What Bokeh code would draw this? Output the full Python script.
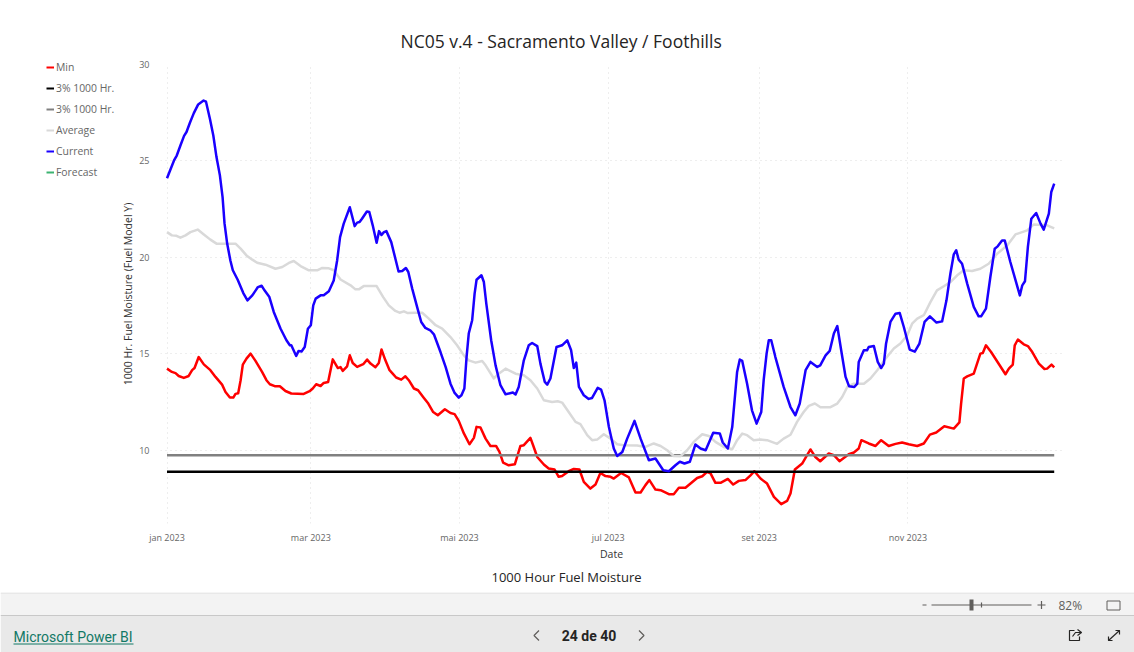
import pandas as pd
from bokeh.plotting import figure
from bokeh.layouts import column, row
from bokeh.models import (Range1d, FixedTicker, Legend, LegendItem, Title)
from bokeh.core.properties import value
from bokeh.embed import file_html
from bokeh.resources import INLINE

chart_title = "NC05 v.4 - Sacramento Valley / Foothills"
caption = "1000 Hour Fuel Moisture"
x_title = "Date"
y_title = "1000 Hr. Fuel Moisture (Fuel Model Y)"
tick_months = ["2023-01-01", "2023-03-01", "2023-05-01", "2023-07-01", "2023-09-01", "2023-11-01"]
tick_labels = ["jan 2023", "mar 2023", "mai 2023", "jul 2023", "set 2023", "nov 2023"]
y_ticks = [10, 15, 20, 25, 30]

current_days = [0,1.7,3,4,5.5,7,8,9.4,11,12.8,15,16,17.6,19,20.3,21.7,22.8,23.6,24.7,26,27,29,31.3,33,35,37.3,38.8,40,42,43.8,46.6,49,50.4,51,53,54,55.2,56.5,57.8,59,60,61,63,64.3,66.4,68.4,69.8,71,72.5,75,77,78,79,80,82,83,84.4,86,87,88,89,90,92,93.7,95,96.5,98,99,100.6,102.6,104.3,106,108,109.5,112.2,114.3,116.3,118,119.7,120.8,122,122.9,123.8,125.2,126.2,127,129,130,131,133,134.8,136.8,138.9,141.9,143,144.3,146.4,148.4,149.8,151.9,153.2,155,156,157.3,159.8,162.1,164.2,165.8,166.9,167.9,169,171,173,174.4,176.7,178.1,179.5,181.3,183.3,184.7,186.8,188.8,191.8,194.3,197.7,200.4,203.6,205.9,208.6,210.4,212.3,214.5,216.8,218.9,221,224.1,226.8,228,230.1,231.9,233.9,235,236,238,240,241.9,243.8,244.8,246,246.9,247.9,249.6,253,255.8,257.8,259.6,262,264,266.8,268,270.2,271.9,273.6,275,276.6,278.4,279.8,282,283.2,283.8,285.9,287.2,287.9,290,291.6,293,294.1,295,296.8,298.9,300.6,302.3,304.7,306.8,308.7,310.8,313,315.7,318,319.8,321.4,322.8,323.8,324.8,326.2,328.3,331,333,334,336,337.8,339.6,340.8,342.6,343.7,346,349.9,350.9,352,353.2,354.6,356.6,358.4,359.7,361.8,362.8,364]
current_vals = [24.1,24.65,25.06,25.28,25.8,26.3,26.5,26.98,27.48,27.93,28.13,28.07,27.19,26.32,25.2,24.25,23.12,21.76,20.7,19.84,19.33,18.84,18.15,17.77,18.03,18.46,18.53,18.29,17.94,17.17,16.3,15.7,15.44,15.44,14.89,15.15,15.12,15.35,16.3,16.48,17.51,17.86,18.03,18.03,18.24,18.8,19.84,21.05,21.75,22.6,21.62,21.8,21.83,22,22.38,22.35,21.66,20.76,21.36,21.16,21.31,21.36,20.79,19.93,19.27,19.29,19.45,19.24,18.38,17.43,16.65,16.34,16.22,16.01,15.09,14.32,13.45,12.97,12.73,12.85,13.2,14.83,16.05,16.74,18.12,18.84,19.07,18.72,17.6,15.7,14.4,13.37,12.9,12.99,12.89,13.28,14.66,15.44,15.56,15.4,14.49,13.54,13.4,13.72,15.35,15.44,15.7,15.18,14.26,14.54,13.28,12.85,12.66,12.71,13.23,13.14,12.59,11.2,10.09,9.7,9.91,10.6,11.52,10.6,9.48,9.57,8.96,8.91,9.22,9.4,9.31,9.4,10.3,10.09,10,10.9,10.87,10.4,10.09,11.2,14.06,14.7,14.63,13.45,12.07,11.38,11.98,13.63,15.01,15.7,15.7,14.83,13.28,12.24,11.81,12.42,14.15,14.58,14.32,14.4,14.92,15.15,16.05,16.44,15.18,13.8,13.32,13.28,13.45,14.58,15.18,15.18,15.35,15.4,14.58,14.26,14.49,15.52,16.65,17.08,17.12,16.39,15.22,15.11,15.53,16.65,16.94,16.62,16.68,17.77,19.15,20.16,20.37,19.88,19.67,18.64,17.43,16.94,16.94,17.34,18.98,20.45,20.57,20.88,20.88,19.76,18.03,18.55,18.76,20.54,22,22.3,21.75,21.44,22.27,23.39,23.82]

average_days = [0,2,3.9,5.5,7.6,9.6,12.6,15.1,17.8,20.3,24.7,28.1,30.2,32.6,35,37,40.4,44.5,47.3,50,52,54.8,58.2,61.6,63.7,66.4,68.4,71.2,75.3,77.3,78.7,80.7,86,88.7,91,93.7,95.4,97.2,98.8,102,104.7,107.4,110.2,112.9,116.3,119,121.8,123.8,126.6,129.3,130.7,134.1,136.1,138.9,143,146.4,149.1,151.9,154.6,158,160.3,162.1,164.8,167.6,169.6,172.4,174.4,176.5,179.2,182,184.7,187.4,192.9,196.3,199.7,202.5,205.2,207.9,210.7,213.4,216.1,219.6,222.3,225,228.4,231.9,233.9,236,238,240.7,243.5,246.2,250.3,253,255.8,258.5,261.2,263.3,265.8,268.1,272.2,275,277,279.1,281.8,285.9,288.6,291.4,294.8,298.2,300.9,303.7,305.7,307.8,310.5,313.2,315.9,318.7,321.4,324.2,326.9,330.3,333.7,337.1,340.6,344.7,348.1,352.9,355.6,361.1,364]
average_vals = [21.31,21.14,21.12,21.02,21.14,21.31,21.44,21.19,20.92,20.71,20.71,20.71,20.45,20.1,19.88,19.72,19.62,19.41,19.5,19.71,19.81,19.55,19.33,19.33,19.45,19.43,19.33,18.85,18.55,18.34,18.34,18.51,18.51,17.94,17.51,17.22,17.13,17.2,17.11,17.13,17.13,16.82,16.48,16.31,15.87,15.44,14.92,14.66,14.54,14.63,14.4,13.72,13.97,14.23,13.97,13.89,13.63,13.2,12.59,12.5,12.54,12.47,11.98,11.47,11.35,10.78,10.52,10.55,10.83,10.6,10.31,10.26,10.24,10.17,10.35,10.22,10,9.7,9.69,10,10.43,10.83,10.74,10.43,10.17,10.05,10.52,10.86,10.78,10.52,10.55,10.52,10.33,10.6,10.8,11.47,11.98,12.3,12.42,12.23,12.23,12.42,12.76,13.28,13.45,13.45,13.72,14.15,14.75,15.27,15.53,15.96,16.56,16.82,17,17.68,18.29,18.5,18.72,19.07,19.33,19.29,19.41,19.67,20.19,20.62,21.19,21.4,21.71,21.66,21.5]

min_days = [0,2,3.5,4.8,6.9,8.9,10.3,11.3,13,15.1,17.8,19.9,22.6,24,25.8,27.2,28.1,29.2,30.2,31.1,32.6,34.3,36.3,39,40.8,42.2,44.2,46.3,48.6,51,56.1,58.5,59.8,61.2,63,64.3,66.1,68,70.1,71.2,72.1,73.9,75,76.2,78,80.5,82.1,83.5,85.5,86.9,88,89.6,91.3,92.4,94,96.1,97.8,99.2,101.3,103,105.4,107.2,109.2,111.1,114,116.3,118,119.7,121.8,124.1,125.9,127,128.6,130.7,132.7,135,136.4,137.9,140.2,142.7,145,146.4,149.1,150.2,151.9,154.6,156.6,159,160.7,162.1,164.8,166.9,169.2,171,173.7,175.8,177.8,179.9,182,183.3,186.3,189.5,192.2,194.3,196.3,197.9,200.4,202.5,205.9,207.9,210,212.7,214.8,217.5,219.6,221.6,223,225,227.1,230.1,232.3,234.6,237.3,239.4,241,243.5,246.2,249,252,254.4,255.8,257.6,260.6,262.2,264,266,268,271.5,273.6,275.9,279.7,281.8,283.8,284.9,287.9,290.7,293,296.1,298.9,301.6,304.3,307.8,310.5,313,315.6,318.9,322.8,325.1,325.8,326.9,328.3,331,333.7,334.7,336,338.1,344,345.4,347,347.8,349.1,351.5,353.2,355,357.7,360,361.1,362.9,364]
min_vals = [14.23,14.06,14,13.85,13.75,13.85,14.15,14.26,14.83,14.45,14.15,13.8,13.4,13.02,12.73,12.73,12.92,12.95,13.63,14.44,14.75,15.01,14.63,14.06,13.63,13.42,13.32,13.32,13.07,12.94,12.92,13.06,13.2,13.42,13.33,13.49,13.54,14.71,14.26,14.31,14.11,14.35,14.92,14.52,14.32,14.46,14.7,14.49,14.3,14.52,15.22,14.66,14.15,14,13.77,13.66,13.83,13.63,13.2,13.11,12.71,12.42,11.98,11.81,12.12,11.93,11.87,11.52,10.87,10.31,10.64,11.21,11.18,10.6,10.22,10.22,9.91,9.36,9.22,9.27,10.22,10.26,10.64,10.26,9.65,9.26,9.05,9,8.62,8.66,8.91,9.03,9,8.36,8.01,8.22,8.82,8.66,8.62,8.53,8.82,8.59,7.81,7.81,8.19,8.45,7.96,7.93,7.72,7.72,8.05,8.05,8.27,8.56,8.65,8.88,8.8,8.31,8.31,8.51,8.22,8.41,8.45,8.7,8.91,8.53,8.27,7.58,7.2,7.37,7.76,9,9.31,9.65,10.04,9.65,9.43,9.83,9.74,9.43,9.79,9.88,10.09,10.52,10.35,10.22,10.52,10.22,10.33,10.4,10.31,10.22,10.35,10.81,10.92,11.24,11.12,11.44,12.42,13.72,13.83,13.97,15.01,15.04,15.44,15.09,13.94,14.23,14.44,15.44,15.74,15.49,15.4,15.09,14.49,14.21,14.23,14.44,14.3]

threshold_days = [0, 364]
low_threshold = [8.88, 8.88]
high_threshold = [9.74, 9.74]
forecast_days = [364]
forecast_vals = [float("nan")]

legend_labels = ["Min", "3% 1000 Hr.", "3% 1000 Hr.", "Average", "Current", "Forecast"]
series_colors = ["#ff0000", "#000000", "#808080", "#d9d9d9", "#1a00ff", "#3cb371"]

start = pd.Timestamp("2023-01-01")
def to_dates(days):
    return start + pd.to_timedelta(days, unit="D")

p = figure(width=1016, height=592, output_backend="svg", toolbar_location=None,
           x_axis_type="datetime",
           x_range=Range1d(start + pd.Timedelta(days=-2.67), start + pd.Timedelta(days=367.4)),
           y_range=Range1d(6.2, 30),
           min_border_left=42, min_border_right=72, min_border_top=64, min_border_bottom=69)
p.frame_align = False
p.outline_line_color = None
p.background_fill_color = "white"
p.border_fill_color = "white"

tick_ms = [pd.Timestamp(m).timestamp() * 1000 for m in tick_months]
xa = p.xaxis[0]
xa.ticker = FixedTicker(ticks=tick_ms)
xa.major_label_overrides = dict(zip(tick_ms, tick_labels))
ya = p.yaxis[0]
ya.ticker = FixedTicker(ticks=y_ticks)
for ax in (xa, ya):
    ax.axis_line_color = None
    ax.major_tick_line_color = None
    ax.minor_tick_line_color = None
    ax.major_tick_out = 0
    ax.major_tick_in = 0
    ax.minor_tick_out = 0
    ax.major_label_text_font = "Open Sans"
    ax.major_label_text_font_size = "9px"
    ax.major_label_text_color = "#666666"
    ax.axis_label_text_font = "Open Sans"
    ax.axis_label_text_font_size = "10.5px"
    ax.axis_label_text_font_style = "normal"
    ax.axis_label_text_color = "#333333"
xa.major_label_standoff = 7
xa.axis_label = x_title
xa.axis_label_standoff = 0
ya.major_label_standoff = 11
ya.axis_label = y_title
ya.axis_label_standoff = 1

for g in (p.xgrid[0], p.ygrid[0]):
    g.grid_line_color = "#dcdcdc"
    g.grid_line_dash = "1 4"
    g.grid_line_width = 1
p.xgrid[0].ticker = xa.ticker
p.ygrid[0].ticker = ya.ticker

p.title = Title(text=chart_title, align="left", offset=240, text_font="Open Sans",
                text_font_size="17.5px", text_font_style="normal", text_color="#252423", standoff=24)

p.add_layout(Title(text=caption, align="left", offset=331, text_font="Open Sans",
                   text_font_size="13px", text_font_style="normal", text_color="#252423", standoff=4), "below")

w = 2.5
p.line(to_dates(min_days), min_vals, line_color=series_colors[0], line_width=w, line_join="round")
p.line(to_dates(threshold_days), low_threshold, line_color=series_colors[1], line_width=w)
p.line(to_dates(threshold_days), high_threshold, line_color=series_colors[2], line_width=w)
p.line(to_dates(average_days), average_vals, line_color=series_colors[3], line_width=w, line_join="round")
p.line(to_dates(current_days), current_vals, line_color=series_colors[4], line_width=w, line_join="round")
p.line(to_dates(forecast_days), forecast_vals, line_color=series_colors[5], line_width=w)

# The legend sits in its own panel to the left of the plot, as in the reference
k = figure(width=118, height=592, output_backend="svg", toolbar_location=None,
           x_range=Range1d(0, 1), y_range=Range1d(0, 1),
           min_border=0, x_axis_location=None, y_axis_location=None)
k.frame_align = False
k.outline_line_color = None
k.grid.visible = False
keys = [k.line([0], [float("nan")], line_color=c, line_width=2) for c in series_colors]
items = [LegendItem(label=value(l), renderers=[r]) for l, r in zip(legend_labels, keys)]
legend = Legend(items=items, location=(46, 413), orientation="vertical", margin=0, padding=0,
                spacing=7, glyph_width=8, glyph_height=14, label_height=14, label_standoff=2,
                background_fill_alpha=0, border_line_color=None,
                label_text_font="Open Sans", label_text_font_size="10.4px", label_text_color="#666666")
k.add_layout(legend, "center")

# Report viewer footer, in page pixel coordinates
f = figure(width=1134, height=60, output_backend="svg", toolbar_location=None,
           x_range=Range1d(0, 1134), y_range=Range1d(652, 592),
           min_border=0, x_axis_location=None, y_axis_location=None)
f.frame_align = False
f.outline_line_color = None
f.grid.visible = False
f.quad(left=[0], right=[1134], top=[592], bottom=[615], fill_color="#f3f3f3", line_color=None)
f.quad(left=[0], right=[1134], top=[615], bottom=[652], fill_color="#e9e9e9", line_color=None)
f.segment([0, 0], [592.5, 615], [1134, 1134], [592.5, 615], line_color=["#dddddd", "#c8c8c8"], line_width=1)

footer_font = value("Roboto")
f.text([13], [636], text=["Microsoft Power BI"], text_font=footer_font, text_font_size="14px",
       text_color="#117865", text_baseline="middle")
f.segment([13], [643.5], [133], [643.5], line_color="#117865", line_width=1)
f.text([588.5], [635], text=["24 de 40"], text_font=footer_font, text_font_size="14px",
       text_color="#252423", text_align="center", text_baseline="middle", text_font_style="bold")
f.multi_line([[538.5, 533.5, 538.5], [638.5, 643.5, 638.5]], [[630, 635, 640], [630, 635, 640]],
             line_color="#605e5c", line_width=1.2)
f.multi_line([[931, 1031], [981, 981], [922, 926], [1037, 1045], [1041, 1041]],
             [[604.5, 604.5], [602, 607], [604.5, 604.5], [604.5, 604.5], [600.5, 608.5]],
             line_color="#605e5c", line_width=1.2)
f.quad(left=[969], right=[973], top=[599], bottom=[610], fill_color="#605e5c", line_color=None)
f.text([1058], [604.5], text=["82%"], text_font=value("Open Sans"), text_font_size="12px",
       text_color="#605e5c", text_baseline="middle")
f.quad(left=[1106.5], right=[1119.5], top=[600.5], bottom=[609.5], fill_color=None, line_color="#605e5c", line_width=1)
# share and expand icons
f.multi_line([[1074, 1069, 1069, 1079, 1079], [1072, 1075, 1081], [1077, 1081, 1077], [1108, 1119], [1108, 1108, 1112], [1119, 1119, 1115]],
             [[630, 630, 640, 640, 636], [636, 632, 632], [629, 632, 635], [640, 630], [636, 640, 640], [634, 630, 630]],
             line_color="#252423", line_width=1.2)

layout = column(row(k, p, spacing=0), f, spacing=0)
open("out.html", "w").write(file_html(layout, INLINE))
